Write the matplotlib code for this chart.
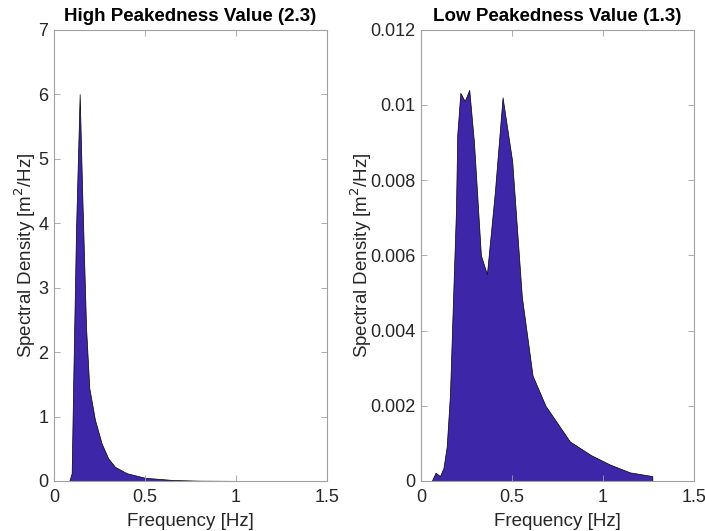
import matplotlib.pyplot as plt
import numpy as np

plt.rcParams['font.family'] = ['Liberation Sans', 'DejaVu Sans']

# spectral density, high peakedness case
f_high = [0.03, 0.084, 0.097, 0.106, 0.121, 0.141, 0.155, 0.176, 0.194, 0.225,
          0.262, 0.298, 0.335, 0.40, 0.50, 0.655, 0.80, 1.0, 1.28]
s_high = [0.0, 0.0, 0.12, 1.6, 3.9, 6.0, 4.46, 2.39, 1.44, 0.95,
          0.58, 0.35, 0.22, 0.12, 0.05, 0.015, 0.005, 0.002, 0.001]

# spectral density, low peakedness case
f_low = [0.031, 0.059, 0.080, 0.104, 0.123, 0.141, 0.159, 0.177, 0.192, 0.199,
         0.216, 0.240, 0.265, 0.291, 0.329, 0.362, 0.406, 0.448, 0.501, 0.554,
         0.613, 0.684, 0.818, 0.933, 1.037, 1.147, 1.271]
s_low = [0.0, 0.0, 0.00022, 0.00013, 0.00034, 0.00091, 0.0023, 0.0050, 0.0072, 0.0092,
         0.01032, 0.0101, 0.0104, 0.0090, 0.0060, 0.0055, 0.0077, 0.0102, 0.0085, 0.0049,
         0.0028, 0.0020, 0.00105, 0.00069, 0.00044, 0.00023, 0.00013]

fill_col = '#3e26a8'
spine_col = '#a0a0a0'
text_col = '#262626'

fig = plt.figure(figsize=(7.05, 5.31), dpi=100)
ax1 = fig.add_axes([0.0766, 0.0942, 0.3872, 0.850])
ax2 = fig.add_axes([0.5972, 0.0942, 0.3872, 0.850])

panels = [
    (ax1, f_high, s_high, 'High Peakedness Value (2.3)', (0, 7), np.arange(0, 8, 1), None, 0),
    (ax2, f_low, s_low, 'Low Peakedness Value (1.3)', (0, 0.012), np.arange(0, 0.0121, 0.002),
     ['0', '0.002', '0.004', '0.006', '0.008', '0.01', '0.012'], -3),
]

for ax, f, s, title, ylim, yticks, ylabels, ypad in panels:
    f = np.array(f)
    s = np.array(s)
    # close the polygon down to zero at the last frequency
    xs = np.concatenate([f, [f[-1]]])
    ys = np.concatenate([s, [0.0]])
    ax.fill_between(xs, ys, 0, facecolor=fill_col, edgecolor='black', linewidth=0.5)
    ax.set_xlim(0, 1.5)
    ax.set_ylim(*ylim)
    ax.set_xticks([0, 0.5, 1, 1.5])
    ax.set_xticklabels(['0', '0.5', '1', '1.5'])
    ax.set_yticks(yticks)
    if ylabels is not None:
        ax.set_yticklabels(ylabels)
    else:
        ax.set_yticklabels([str(int(v)) for v in yticks])
    ax.tick_params(direction='in', top=True, right=True, length=4, width=0.6,
                   color=spine_col, labelsize=13, labelcolor=text_col)
    ax.tick_params(axis='y', pad=4)
    ax.tick_params(axis='x', pad=6)
    for sp in ax.spines.values():
        sp.set_color(spine_col)
        sp.set_linewidth(0.8)
    ax.set_title(title, fontsize=13.5, fontweight='bold', pad=6)
    ax.set_xlabel('Frequency [Hz]', fontsize=13.5, color=text_col, labelpad=5)
    ax.set_ylabel('Spectral Density [m$^2$/Hz]', fontsize=13.5, color=text_col, labelpad=ypad)

fig.savefig('out.png', dpi=100)
